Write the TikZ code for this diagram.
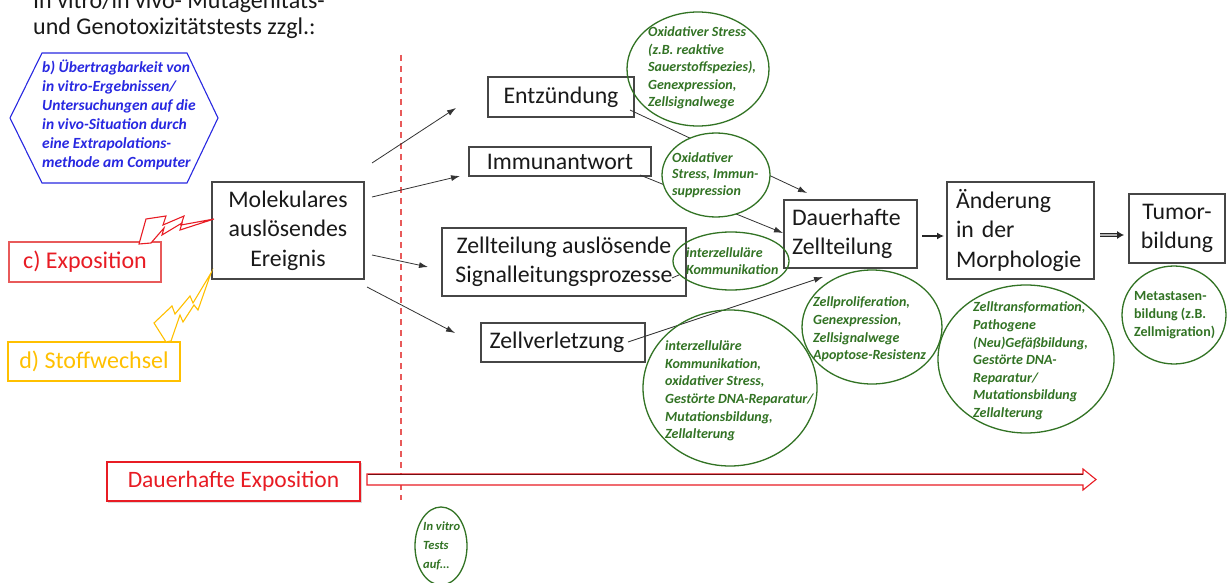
\documentclass[tikz,border=0pt]{standalone}
\usepackage{fontspec}
\setmainfont{Carlito}
\usetikzlibrary{shapes.geometric,arrows.meta,calc}
\definecolor{mygreen}{RGB}{50,115,36}
\definecolor{myblue}{RGB}{40,40,225}
\definecolor{myred}{RGB}{232,28,36}
\definecolor{lightred}{RGB}{232,90,90}
\definecolor{myyellow}{RGB}{255,192,0}
\definecolor{boxgray}{RGB}{70,70,70}
\definecolor{txt}{RGB}{25,25,25}
\tikzset{
  box/.style={draw=boxgray, line width=1.2pt, fill=white, text=txt, font=\fontsize{23.8}{29.5}\selectfont, inner sep=0pt, align=center},
  gell/.style={draw=mygreen, line width=1.3pt, ellipse, inner sep=0pt},
  gtext/.style={text=mygreen, font=\fontsize{14}{17.6}\selectfont\itshape\bfseries, align=left, anchor=west, inner sep=0pt},
  arr/.style={draw=black!80, line width=0.8pt, -{Latex[length=9pt,width=6pt]}},
  plainline/.style={draw=black!80, line width=0.8pt},
}
\begin{document}
\begin{tikzpicture}[x=1pt,y=-1pt]
\useasboundingbox (0,0) rectangle (1227,583);
\fill[white] (0,0) rectangle (1227,583);

% heading
\node[anchor=base west, inner sep=0pt, text=txt, font=\fontsize{24}{27}\selectfont] (h1) at (33,9) {In vitro/in vivo- Mutagenitäts-};
\node[anchor=base west, inner sep=0pt, text=txt, font=\fontsize{24}{27}\selectfont] (h2) at (33,35) {und Genotoxizitätstests zzgl.:};

% hexagon
\draw[myblue, line width=1.1pt] (10,118) -- (42,53) -- (187,53) -- (218,118) -- (187,183) -- (42,183) -- cycle;
\node[anchor=west, inner sep=0pt, align=left, text=myblue, font=\fontsize{15.5}{19}\selectfont\itshape\bfseries] (hex) at (42,115) {b) Übertragbarkeit von\\in vitro-Ergebnissen/\\Untersuchungen auf die\\in vivo-Situation durch\\eine Extrapolations-\\methode am Computer};

% red dashed line
\coordinate (dl1) at (401,55);
\coordinate (dl2) at (401,500);
\draw[draw=lightred, line width=1.2pt, dash pattern=on 6pt off 5pt] (dl1) -- (dl2);

% main boxes
\node[box, minimum width=152, minimum height=97] (mol) at (288,230.5) {Molekulares\\auslösendes\\Ereignis};
\node[box, minimum width=146, minimum height=40] (entz) at (561,97) {Entzündung};
\node[box, minimum width=182, minimum height=29] (immun) at (560,161.5) {Immunantwort};
\node[box, minimum width=244, minimum height=68] (zellt) at (564,262) {Zellteilung auslösende\\Signalleitungsprozesse};
\node[box, minimum width=164, minimum height=39] (zellv) at (563,342.5) {Zellverletzung\hspace{12pt}};
\node[box, minimum width=133, minimum height=68, text width=117, align=left, inner xsep=8pt] (dauer) at (850.5,234) {Dauerhafte\\Zellteilung};
\node[box, minimum width=147, minimum height=97, text width=129, align=left, inner xsep=9pt] (aend) at (1020.5,230.5) {Änderung\\in der\\Morphologie};
\node[box, minimum width=96, minimum height=69] (tumor) at (1177,228.5) {Tumor-\\bildung};

% exposure boxes
\node[draw=lightred, line width=1.3pt, minimum width=152, minimum height=40, inner sep=0pt, text=myred, font=\fontsize{24}{28}\selectfont] (expo) at (85,262) {c) Exposition};
\node[draw=myyellow, line width=1.3pt, minimum width=172, minimum height=39, inner sep=0pt, text=myyellow, font=\fontsize{24}{28}\selectfont] (stoff) at (94,361.5) {d) Stoffwechsel};
\node[draw=black!15, line width=1pt, minimum width=253, minimum height=39, inner sep=0pt] (dexposh) at (234.5,482.5) {};
\node[draw=myred, line width=1.2pt, fill=white, minimum width=253, minimum height=39, inner sep=0pt, text=myred, font=\fontsize{23.5}{26}\selectfont] (dexpo) at (233.5,481.5) {Dauerhafte Exposition};

% lightning bolts
\draw[myred, line width=1.1pt, fill=white, line join=miter] (139,244) -- (146,219) -- (166,216) -- (163,225) -- (184,216) -- (181,225) -- (214,219) -- (180,230) -- (182,223) -- (162,235) -- (164,228) -- (151,243) -- cycle;
\draw[myyellow, line width=1.1pt, fill=white, line join=miter] (166,342) -- (154,323) -- (172,306) -- (175,314) -- (190,296) -- (193,303) -- (211,273) -- (198,310) -- (194,305) -- (183,322) -- (180,315) -- (171,341) -- cycle;

% arrows from Molekulares
\coordinate (m1) at (372,163); \coordinate (t1) at (456,108);
\coordinate (m2) at (372,197); \coordinate (t2) at (460,176);
\coordinate (m3) at (372,255); \coordinate (t3) at (428,267);
\coordinate (m4) at (367,287); \coordinate (t4) at (455,333);
\draw[arr] (m1) -- (t1);
\draw[arr] (m2) -- (t2);
\draw[arr] (m3) -- (t3);
\draw[arr] (m4) -- (t4);

% arrows to Dauerhafte Zellteilung
\coordinate (en1) at (630,110); \coordinate (dz1) at (807,193);
\coordinate (im1) at (640,175); \coordinate (dz2) at (783,233);
\coordinate (zv1) at (628,342); \coordinate (dz3) at (823,277);
\draw[arr] (en1) -- (dz1);
\draw[arr] (im1) -- (dz2);
\draw[arr] (zv1) -- (dz3);

% arrows between final boxes
\coordinate (a1) at (922,236); \coordinate (a2) at (944,236);
\draw[draw=black!85, line width=2.2pt, -{Latex[length=7pt,width=7pt]}] (a1) -- (a2);
\coordinate (b1) at (1100,235); \coordinate (b2) at (1124,235);
\draw[draw=black!85, line width=0.9pt, double=black!30, double distance=1.4pt, -{Latex[length=7pt,width=8pt]}] (b1) -- (b2);

% green ellipses
\node[gell, minimum width=142, minimum height=114] (e1) at (698,69) {};
\node[gtext] (g1) at (648,68) {Oxidativer Stress\\(z.B. reaktive\\Sauerstoffspezies),\\Genexpression,\\Zellsignalwege};

\node[gell, fill=white, minimum width=108, minimum height=84] (e2) at (716,175) {};
\node[gtext, font=\fontsize{14}{16.6}\selectfont\itshape\bfseries] (g2) at (672,175) {Oxidativer\\Stress, Immun-\\suppression};

\node[gell, minimum width=116, minimum height=58] (e3) at (731,261) {};
\node[gtext] (g3) at (686,261) {interzelluläre\\Kommunikation};
\coordinate (zt1) at (672,278);
\draw[plainline] (zt1) -- (e3.195);

\node[gell, minimum width=174, minimum height=156] (e4) at (730,388) {};
\node[gtext] (g4) at (665,391) {interzelluläre\\Kommunikation,\\oxidativer Stress,\\Gestörte DNA-Reparatur/\\Mutationsbildung,\\Zellalterung};

\node[gell, minimum width=140, minimum height=114] (e5) at (872,327) {};
\node[gtext] (g5) at (813,329.5) {Zellproliferation,\\Genexpression,\\Zellsignalwege\\Apoptose-Resistenz};

\node[gell, minimum width=176, minimum height=148] (e6) at (1026,359) {};
\node[gtext] (g6) at (973,361) {Zelltransformation,\\Pathogene\\(Neu)Gefäßbildung,\\Gestörte DNA-\\Reparatur/\\Mutationsbildung\\Zellalterung};

\node[gell, minimum width=104, minimum height=98] (e7) at (1174,315) {};
\node[gtext, font=\fontsize{14}{17.8}\selectfont\bfseries] (g7) at (1134,315) {Metastasen-\\bildung (z.B.\\Zellmigration)};

\node[gell, minimum width=52, minimum height=78] (e8) at (441,546) {};
\node[gtext, font=\fontsize{12.5}{19}\selectfont\itshape\bfseries] (g8) at (423,546) {In vitro\\Tests\\auf...};

% big hollow arrow
\coordinate (ba1) at (367,474);
\draw[myred, line width=1.1pt, fill=white, line join=miter] (ba1) -- (1083,474) -- (1083,469) -- (1096,479.5) -- (1083,490) -- (1083,485) -- (367,485) -- cycle;
\draw[black!50!myred, line width=0.8pt] (368,474) -- (1083,474);
\end{tikzpicture}
\end{document}
